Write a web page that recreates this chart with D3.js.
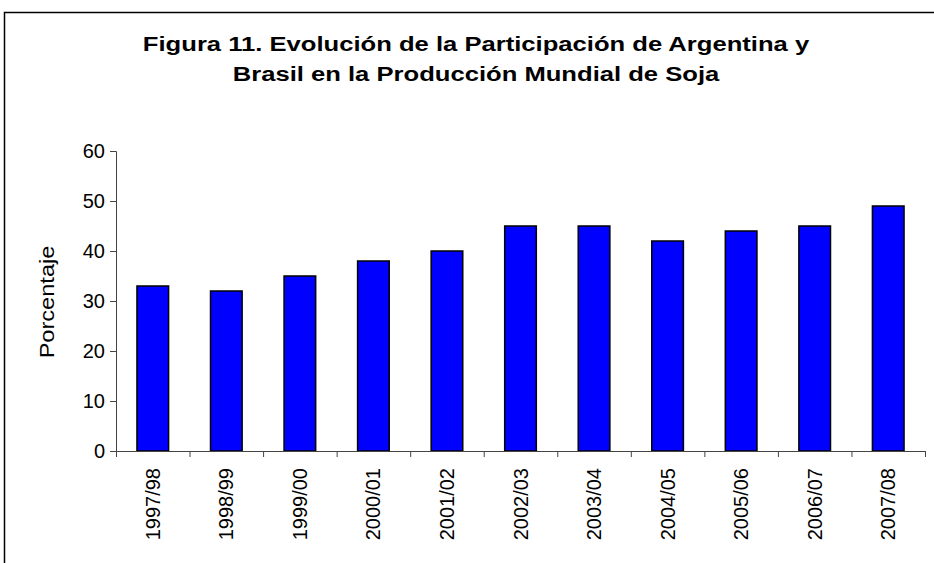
<!DOCTYPE html>
<html>
<head>
<meta charset="utf-8">
<script src="https://cdn.jsdelivr.net/npm/d3@7"></script>
<style>
  body { margin: 0; background: #fff; overflow: hidden; }
  svg { display: block; overflow: hidden; font-family: "Liberation Sans", Arial, sans-serif; }
</style>
</head>
<body>
<script>
const w = 934
const h = 563

const campaigns = ['1997/98', '1998/99', '1999/00', '2000/01', '2001/02', '2002/03',
  '2003/04', '2004/05', '2005/06', '2006/07', '2007/08']
const share = [33, 32, 35, 38, 40, 45, 45, 42, 44, 45, 49]
const yTicks = [0, 10, 20, 30, 40, 50, 60]
const titleLines = ['Figura 11. Evolución de la Participación de Argentina y',
  'Brasil en la Producción Mundial de Soja']

const plotLeft = 116
const plotRight = 925
const plotTop = 151
const plotBottom = 451

const svg = d3.select('body').append('svg')
  .attr('width', w)
  .attr('height', h)

// outer frame: only top and left edges are inside the picture
svg.append('path')
  .attr('d', `M4.5,${h}V12.5H${w}`)
  .attr('fill', 'none').attr('stroke', '#000').attr('stroke-width', 1.5)

// title (the original is drawn a bit wide, so stretch horizontally)
svg.append('g')
  .attr('transform', 'translate(476,0) scale(1.22,1)')
  .selectAll('text')
  .data(titleLines)
  .enter()
  .append('text')
  .attr('x', 0)
  .attr('y', (d, i) => 51 + i * 30)
  .attr('text-anchor', 'middle')
  .attr('font-size', '21px')
  .attr('font-weight', 'bold')
  .text(d => d)

// scales
const x = d3.scaleBand()
  .domain(campaigns)
  .range([plotLeft, plotRight])
  .paddingInner(0.57)
  .paddingOuter(0.285)

const xEdge = d3.scaleLinear()
  .domain([0, campaigns.length])
  .range([plotLeft, plotRight])

const y = d3.scaleLinear()
  .domain([0, 60])
  .range([plotBottom, plotTop])

// bars
svg.append('g').selectAll('rect')
  .data(share)
  .enter()
  .append('rect')
  .attr('x', (d, i) => x(campaigns[i]))
  .attr('y', d => y(d))
  .attr('width', x.bandwidth())
  .attr('height', d => y(0) - y(d))
  .attr('fill', '#0000ff')
  .attr('stroke', '#000')
  .attr('stroke-width', 1.5)

// y axis
const yAxis = svg.append('g')
  .attr('transform', `translate(${plotLeft},0)`)
  .call(d3.axisLeft(y).tickValues(yTicks).tickSize(6).tickPadding(5))
yAxis.selectAll('text').attr('font-size', '20px').attr('fill', '#000')
  .attr('font-family', '"Liberation Sans", Arial, sans-serif')
yAxis.selectAll('line, path').attr('stroke', '#444')

// x axis: ticks between categories
const xAxis = svg.append('g')
  .attr('transform', `translate(0,${plotBottom})`)
  .call(d3.axisBottom(xEdge).tickValues(d3.range(campaigns.length + 1))
    .tickSize(6).tickSizeOuter(0).tickFormat(''))
xAxis.selectAll('line, path').attr('stroke', '#444')

// x labels, rotated
const xLab = svg.append('g')
  .attr('transform', `translate(0,${plotBottom})`)
  .call(d3.axisBottom(x).tickSize(0).tickPadding(0))
xLab.select('.domain').remove()
xLab.selectAll('text')
  .attr('font-size', '20px')
  .attr('fill', '#000')
  .attr('font-family', '"Liberation Sans", Arial, sans-serif')
  .attr('text-anchor', 'end')
  .attr('transform', 'rotate(-90)')
  .attr('x', -17)
  .attr('y', 0)
  .attr('dy', '0.35em')

// y label
svg.append('text')
  .attr('transform', 'translate(54,302) rotate(-90) scale(1.18,1)')
  .attr('text-anchor', 'middle')
  .attr('font-size', '20px')
  .text('Porcentaje')
</script>
</body>
</html>
